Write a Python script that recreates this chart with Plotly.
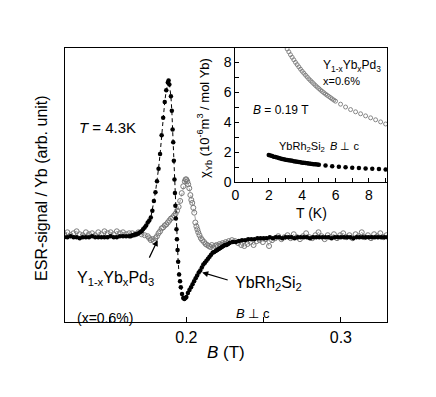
import plotly.graph_objects as go

# The page body has an 8 px margin, so the figure is drawn 8 px in from the corner.
OFF = 8
W, H = 436 - OFF, 397 - OFF

# ---------------- main panel data: ESR signal vs field B (T) ----------------
rh_B = [0.121, 0.123, 0.125, 0.127, 0.129, 0.131, 0.133, 0.135, 0.137, 0.139, 0.141,
        0.143, 0.145, 0.147, 0.149, 0.151, 0.153, 0.155, 0.157, 0.159, 0.161, 0.163,
        0.164, 0.165, 0.166, 0.167, 0.168, 0.169, 0.170, 0.171, 0.172, 0.173, 0.174,
        0.175, 0.176, 0.177, 0.178, 0.179, 0.180, 0.181, 0.182, 0.183, 0.184, 0.185,
        0.186, 0.187, 0.188, 0.1885,
        0.1890, 0.1900, 0.1906, 0.1911, 0.1915, 0.1919, 0.1923, 0.1926, 0.1929, 0.1932,
        0.1936, 0.1939, 0.1943, 0.1947, 0.1953, 0.1959, 0.1964, 0.1972, 0.1980, 0.1987,
        0.1994,
        0.200, 0.201, 0.202, 0.203, 0.204, 0.205, 0.206, 0.207, 0.208, 0.209, 0.210,
        0.211, 0.212, 0.213, 0.214, 0.215, 0.216, 0.217, 0.218, 0.219, 0.220, 0.221,
        0.222, 0.223, 0.224, 0.225, 0.226, 0.227, 0.228,
        0.230, 0.232, 0.234, 0.236, 0.238, 0.240, 0.242, 0.244, 0.246, 0.248,
        0.250, 0.252, 0.254, 0.256, 0.258, 0.260, 0.262, 0.264, 0.266, 0.268, 0.270,
        0.272, 0.274, 0.276, 0.278, 0.280, 0.282, 0.284, 0.286, 0.288, 0.290, 0.292,
        0.294, 0.296, 0.298, 0.300, 0.302, 0.304, 0.306, 0.308, 0.310, 0.312, 0.314,
        0.316, 0.318, 0.320, 0.322, 0.324, 0.326, 0.328, 0.330]
rh_sig = [0.00, 0.00, 0.01, 0.00, 0.00, -0.01, 0.00, 0.00, 0.00, 0.01, 0.00,
          0.00, 0.00, 0.00, 0.00, 0.01, 0.00, 0.00, 0.01, 0.01, 0.01, 0.01,
          0.01, 0.02, 0.02, 0.03, 0.03, 0.04, 0.05, 0.06, 0.08, 0.10, 0.12,
          0.15, 0.17, 0.20, 0.27, 0.37, 0.46, 0.57, 0.70, 0.85, 1.04, 1.22,
          1.38, 1.50, 1.58, 1.60,
          1.56, 1.44, 1.29, 1.10, 0.97, 0.78, 0.59, 0.45, 0.32, 0.19,
          0.08, -0.02, -0.13, -0.25, -0.38, -0.45, -0.51, -0.58, -0.62, -0.63,
          -0.62,
          -0.61, -0.57, -0.54, -0.51, -0.48, -0.45, -0.42, -0.39, -0.36, -0.34, -0.31,
          -0.28, -0.26, -0.24, -0.22, -0.20, -0.18, -0.16, -0.15, -0.14, -0.13, -0.12,
          -0.11, -0.10, -0.09, -0.08, -0.08, -0.07, -0.06,
          -0.05, -0.05, -0.04, -0.03, -0.03, -0.02, -0.02, -0.02, -0.01, -0.01,
          -0.01, -0.01, 0.00, -0.01, 0.00, 0.00, -0.01, 0.00, 0.00, 0.00, -0.01,
          0.00, 0.00, 0.00, 0.00, -0.01, 0.00, 0.00, 0.00, 0.00, 0.00, 0.00,
          -0.01, 0.00, 0.00, 0.00, 0.00, 0.00, 0.00, -0.01, 0.00, 0.00, 0.00,
          0.00, 0.00, 0.00, 0.00, 0.00, 0.00, 0.00, 0.00]

pd_B = [0.121, 0.123, 0.125, 0.127, 0.129, 0.131, 0.133, 0.135, 0.137, 0.139, 0.141,
        0.143, 0.145, 0.147, 0.149, 0.151, 0.153, 0.155, 0.157, 0.159, 0.161, 0.163,
        0.165, 0.167, 0.169, 0.171, 0.173, 0.175, 0.176, 0.177, 0.178, 0.179, 0.180,
        0.181, 0.182, 0.183, 0.184, 0.185, 0.186, 0.187, 0.188, 0.189, 0.190, 0.191,
        0.192, 0.193, 0.194, 0.195, 0.196, 0.197, 0.198, 0.199, 0.1995,
        0.2000, 0.2006, 0.2012, 0.2019, 0.2026, 0.2032, 0.2038, 0.2045, 0.2051, 0.2058,
        0.2065, 0.2071, 0.2077, 0.2085, 0.2094, 0.2103, 0.2115, 0.2125, 0.2135, 0.2145,
        0.2155, 0.2165, 0.2175, 0.2185, 0.2195, 0.2205, 0.2215, 0.2225, 0.2235, 0.2245,
        0.2255, 0.2265, 0.2275,
        0.2295, 0.2315, 0.2335, 0.2355, 0.2375, 0.2395, 0.2415, 0.2435, 0.2455, 0.2475,
        0.2495, 0.2515, 0.2535, 0.2555, 0.2575, 0.2595, 0.2615, 0.2635, 0.2655, 0.2675,
        0.2695, 0.2715, 0.2735, 0.2755, 0.2775, 0.2795, 0.2815, 0.2835, 0.2855, 0.2875,
        0.2895, 0.2915, 0.2935, 0.2955, 0.2975, 0.2995, 0.3015, 0.3035, 0.3055, 0.3075,
        0.3095, 0.3115, 0.3135, 0.3155, 0.3175, 0.3195, 0.3215, 0.3235, 0.3255, 0.3275,
        0.3295]
pd_sig = [0.03, 0.05, 0.02, 0.04, 0.06, 0.03, 0.02, 0.05, 0.03, 0.04, 0.02,
          0.05, 0.03, 0.06, 0.04, 0.05, 0.03, 0.06, 0.04, 0.05, 0.03, 0.04,
          0.04, 0.03, 0.05, 0.03, 0.02, 0.01, -0.01, -0.03, -0.02, -0.04, -0.01,
          0.01, 0.04, 0.06, 0.09, 0.10, 0.12, 0.13, 0.15, 0.17, 0.19, 0.20,
          0.22, 0.24, 0.27, 0.31, 0.37, 0.45, 0.52, 0.57, 0.59,
          0.59, 0.57, 0.54, 0.50, 0.43, 0.38, 0.35, 0.30, 0.25, 0.15,
          0.11, 0.08, 0.05, 0.02, -0.01, -0.03, -0.05, -0.07, -0.08, -0.09,
          -0.10, -0.08, -0.11, -0.09, -0.08, -0.09, -0.07, -0.08, -0.06, -0.07,
          -0.05, -0.06, -0.04,
          -0.03, -0.04, -0.06, -0.08, -0.09, -0.07, -0.05, -0.08, -0.04, -0.03,
          -0.05, -0.02, -0.09, -0.03, -0.01, 0.01, -0.02, 0.00, 0.02, -0.01,
          0.03, 0.00, -0.02, 0.01, 0.04, 0.00, -0.01, 0.02, 0.05, 0.01,
          -0.02, 0.02, 0.00, 0.03, -0.01, 0.02, 0.04, 0.00, 0.02, -0.01,
          0.03, 0.01, 0.05, 0.00, 0.02, -0.01, 0.03, 0.01, 0.04, 0.00,
          0.02]

main_xticks = [0.15, 0.2, 0.25, 0.3]
main_xticktext = ["", "0.2", "", "0.3"]

# ---------------- inset data: susceptibility vs T (K) ----------------
ins_pd_T = [3.0, 3.1, 3.2, 3.3, 3.4, 3.5, 3.6, 3.7, 3.8, 3.9, 4.0, 4.1, 4.2, 4.3, 4.4,
            4.5, 4.6, 4.7, 4.8, 4.9, 5.0, 5.1, 5.2, 5.3, 5.4, 5.5, 5.6, 5.7, 5.8, 5.9,
            6.0, 6.3, 6.6, 6.9, 7.2, 7.5, 7.8, 8.1, 8.4, 8.7, 9.0]
ins_pd_chi = [9.07, 8.87, 8.68, 8.49, 8.32, 8.15, 7.98, 7.83, 7.68, 7.53, 7.39, 7.26,
              7.13, 7.01, 6.88, 6.77, 6.66, 6.55, 6.44, 6.34, 6.24, 6.14, 6.05, 5.96,
              5.87, 5.79, 5.71, 5.63, 5.55, 5.47, 5.40, 5.20, 5.01, 4.84, 4.69, 4.56,
              4.42, 4.29, 4.16, 4.02, 3.88]

ins_rh_T = [2.0, 2.1, 2.2, 2.3, 2.4, 2.5, 2.6, 2.7, 2.8, 2.9, 3.0, 3.1, 3.2, 3.3, 3.4,
            3.5, 3.6, 3.7, 3.8, 3.9, 4.0, 4.1, 4.2, 4.3, 4.4, 4.5, 4.6, 4.7, 4.8, 4.9,
            5.0, 5.4, 5.8, 6.2, 6.6, 7.0, 7.4, 7.8, 8.2, 8.6, 9.0]
ins_rh_chi = [1.82, 1.78, 1.75, 1.71, 1.68, 1.65, 1.62, 1.59, 1.56, 1.54, 1.51, 1.49,
              1.47, 1.45, 1.43, 1.41, 1.39, 1.37, 1.35, 1.33, 1.31, 1.30, 1.28, 1.27,
              1.25, 1.24, 1.22, 1.21, 1.20, 1.19, 1.17, 1.12, 1.07, 1.03, 1.00, 0.97,
              0.95, 0.92, 0.90, 0.88, 0.86]

inset_xticks = [0, 1, 2, 3, 4, 5, 6, 7, 8, 9]
inset_xticktext = ["0", "", "2", "", "4", "", "6", "", "8", ""]
inset_yticks = [0, 1, 2, 3, 4, 5, 6, 7, 8]
inset_yticktext = ["0", "", "2", "", "4", "", "6", "", "8"]

FONT = "Arial, Liberation Sans, sans-serif"


def px(x):
    return (x - OFF) / W


def py(y):
    return 1 - (y - OFF) / H


fig = go.Figure()

fig.add_trace(go.Scatter(
    x=pd_B, y=pd_sig, mode="lines+markers", xaxis="x", yaxis="y",
    line=dict(color="#8c8c8c", width=0.8, dash="4px,3px"),
    marker=dict(symbol="circle-open", size=5, color="#7a7a7a", line=dict(width=1)),
))
fig.add_trace(go.Scatter(
    x=rh_B, y=rh_sig, mode="lines+markers", xaxis="x", yaxis="y",
    line=dict(color="black", width=1, dash="4px,3px"),
    marker=dict(symbol="circle", size=4.5, color="black"),
))
fig.add_trace(go.Scatter(
    x=ins_pd_T, y=ins_pd_chi, mode="markers", xaxis="x2", yaxis="y2",
    marker=dict(symbol="circle-open", size=4, color="#7a7a7a", line=dict(width=0.9)),
))
fig.add_trace(go.Scatter(
    x=ins_rh_T, y=ins_rh_chi, mode="markers", xaxis="x2", yaxis="y2",
    marker=dict(symbol="circle", size=4.5, color="black"),
))

axis_common = dict(showline=True, linecolor="black", linewidth=1, mirror=True,
                   showgrid=False, zeroline=False, ticks="inside", tickcolor="black",
                   tickwidth=1)

fig.update_layout(
    width=W, height=H, margin=dict(l=0, r=0, t=0, b=0),
    paper_bgcolor="white", plot_bgcolor="white", showlegend=False,
    font=dict(family=FONT, color="black"),
    xaxis=dict(domain=[px(61), px(387)], range=[0.12115, 0.33013],
               tickvals=main_xticks, ticktext=main_xticktext, ticklen=5,
               tickfont=dict(size=16), anchor="y", **axis_common),
    yaxis=dict(domain=[py(329), py(49)], range=[-0.87, 1.93],
               showticklabels=False, anchor="x",
               **{**axis_common, "ticks": ""}),
    xaxis2=dict(domain=[px(233.5), px(387)], range=[0, 9.11],
                tickvals=inset_xticks, ticktext=inset_xticktext, ticklen=4,
                tickfont=dict(size=14), anchor="y2", **axis_common),
    yaxis2=dict(domain=[py(186), py(49)], range=[0, 8.925],
                tickvals=inset_yticks, ticktext=inset_yticktext, ticklen=4,
                tickfont=dict(size=14), anchor="x2", **axis_common),
)

ann = []


def text(t, x, y, size, xanchor="center", angle=0):
    ann.append(dict(text=t, x=px(x), y=py(y), xref="paper", yref="paper",
                    xanchor=xanchor, yanchor="middle", showarrow=False,
                    textangle=angle, font=dict(size=size, family=FONT, color="black")))


text("ESR-signal / Yb (arb. unit)", 37, 192, 16, angle=-90)
text("<i>B</i> (T)", 224, 360, 17)
text("T (K)", 310, 217, 14)
text("χ<sub>Yb</sub> (10<sup>-6</sup>m<sup>3</sup> / mol Yb)", 202, 120, 13, angle=-90)
text("<i>T</i> = 4.3K", 104, 130, 15)
text("Y<sub>1-x</sub>Yb<sub>x</sub>Pd<sub>3</sub>", 72, 284, 16, xanchor="left")
text("(x=0.6%)", 72, 325, 14, xanchor="left")
text("YbRh<sub>2</sub>Si<sub>2</sub>", 231, 289, 16, xanchor="left")
text("<i>B</i> ⊥ c", 232, 320, 13, xanchor="left")
text("Y<sub>1-x</sub>Yb<sub>x</sub>Pd<sub>3</sub>", 320, 67, 12, xanchor="left")
text("x=0.6%", 320, 83, 11, xanchor="left")
text("<i>B</i> = 0.19 T", 249, 112, 12, xanchor="left")
text("YbRh<sub>2</sub>Si<sub>2</sub>", 275, 150, 11, xanchor="left")
text("<i>B</i> ⊥ c", 327, 149, 11, xanchor="left")

for hx, hy, tx, ty in [(155, 245, 146, 264), (200, 278, 227, 286)]:
    ann.append(dict(text="", x=px(hx), y=py(hy), xref="paper", yref="paper",
                    ax=tx - hx, ay=ty - hy, showarrow=True, arrowhead=2,
                    arrowsize=1, arrowwidth=1.2, arrowcolor="black", standoff=0))

fig.update_layout(annotations=ann)

fig.write_html("out.html")
